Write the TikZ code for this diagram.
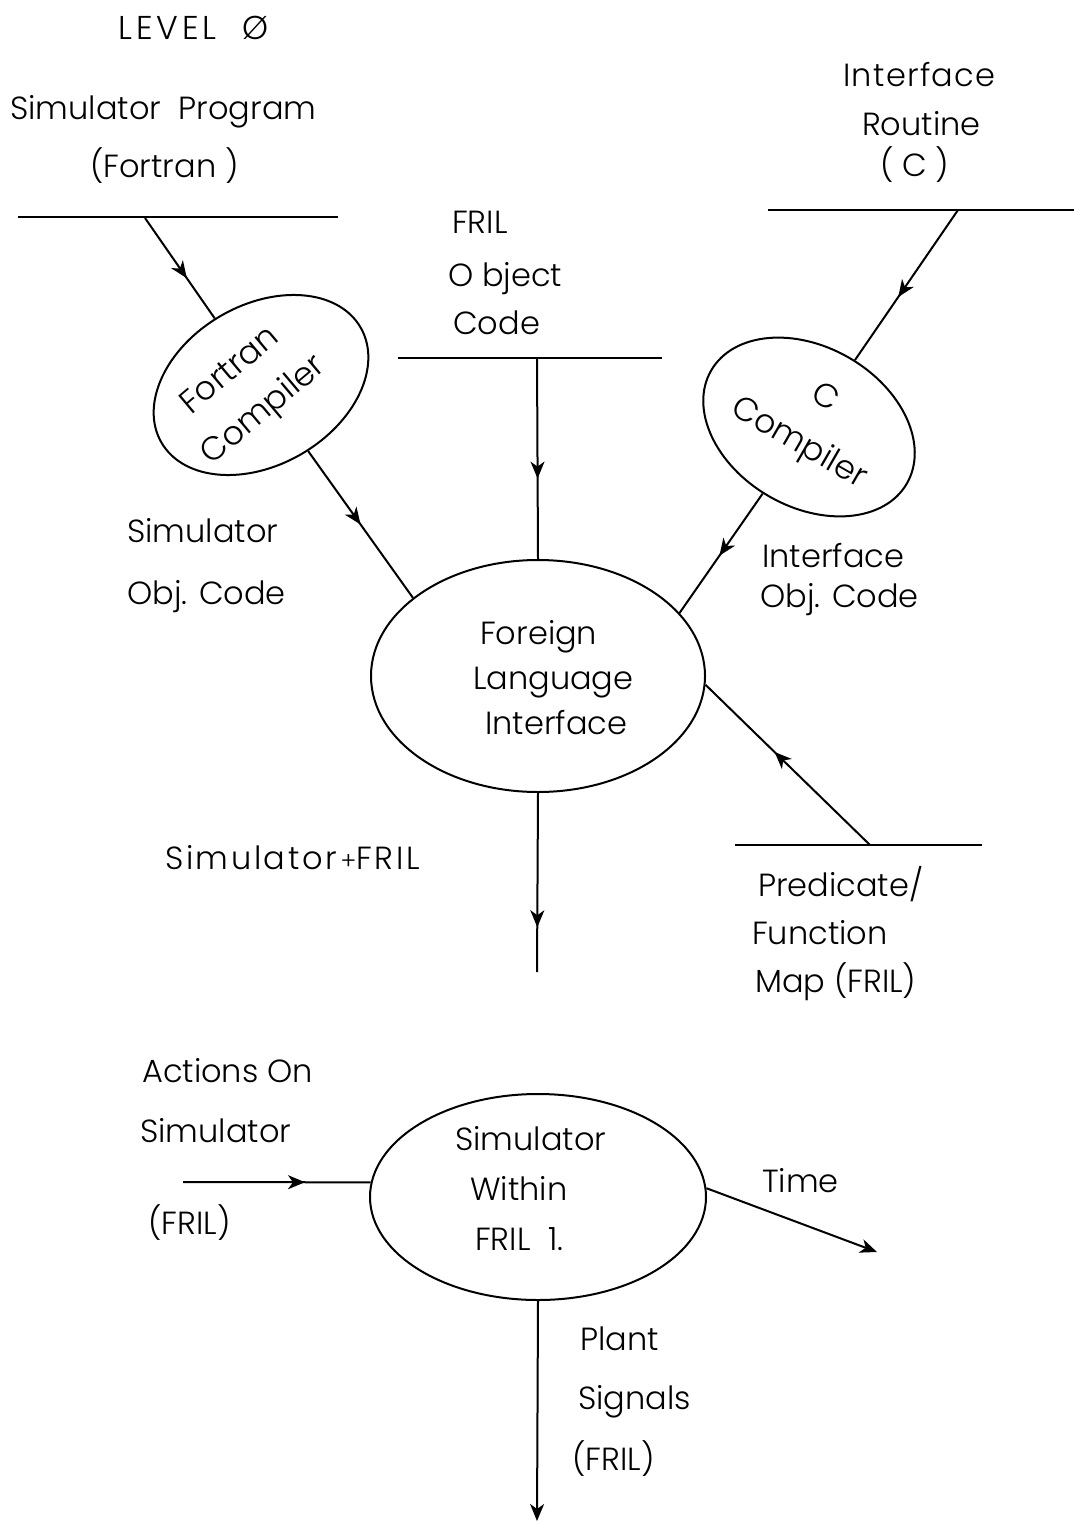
\documentclass[tikz,border=0pt]{standalone}
\usepackage{fontspec}
\setmainfont{Poppins Light}
\usetikzlibrary{shapes.geometric,arrows.meta,decorations.markings}
\tikzset{
  lbl/.style={anchor=base west, inner sep=0pt, font=\fontsize{32}{38}\selectfont},
  bubble/.style={draw, ellipse, line width=2pt, inner sep=0pt},
  store/.style={line width=2.8pt},
  flow/.style={line width=2pt},
  midtip/.style={postaction={decorate},
    decoration={markings, mark=at position #1 with {\arrow{Stealth[length=17pt,width=14pt,inset=5pt]}}}},
  endtip/.style={-{Stealth[length=17pt,width=14pt,inset=5pt]}},
}
\begin{document}
\begin{tikzpicture}[x=1pt,y=-1pt]
\useasboundingbox[fill=white] (0,0) rectangle (1074,1522);

% title
\node[lbl, font=\fontsize{33}{38}\selectfont\addfontfeatures{LetterSpace=12}] (title) at (118,40) {LEVEL\ \ Ø};

% data stores (bars)
\draw[store] (18,217) -- (338,217);
\draw[store] (398,358) -- (662,358);
\draw[store] (768,210) -- (1074,210);
\draw[store] (735,845) -- (982,845);

\coordinate (ftop) at (145,218);
\coordinate (otop) at (537,358);
\coordinate (ctop) at (958,210);
\coordinate (ptop) at (870,845);
\coordinate (flout) at (537,972);
\coordinate (actin) at (183,1182);
\coordinate (timeout) at (877,1252);
\coordinate (plantout) at (537,1521);

% processes
\node[bubble, minimum width=230pt, minimum height=160pt, rotate=30] (fc) at (261,385) {};
\node[bubble, minimum width=226pt, minimum height=160pt, rotate=-30] (cc) at (809,427) {};
\node[bubble, minimum width=334pt, minimum height=232pt] (fli) at (538,676) {};
\node[bubble, minimum width=336pt, minimum height=206pt] (sim) at (538,1197) {};

% text inside the processes
\node[font=\fontsize{33}{52}\selectfont, align=center, rotate=40, inner sep=0pt] (fctext) at (248,392) {Fortran\\Compiler};
\node[font=\fontsize{33}{52}\selectfont, align=center, rotate=-30, inner sep=0pt] (cctext) at (811,422) {C\\Compiler};
\node[lbl] (fli1) at (480,644) {Foreign};
\node[lbl] (fli2) at (473,689) {Language};
\node[lbl] (fli3) at (485,734) {Interface};
\node[lbl] (sim1) at (455,1150) {Simulator};
\node[lbl] (sim2) at (470,1200) {Within};
\node[lbl] (sim3) at (475,1250) {FRIL\ \ 1.};

% store labels
\node[lbl] (sp1) at (10,120) {Simulator\ \ Program};
\node[lbl] (sp2) at (90,178) {(Fortran )};
\node[lbl] (ob1) at (452,234) {FRIL};
\node[lbl] (ob2) at (448,287) {O bject};
\node[lbl] (ob3) at (453,334) {Code};
\node[lbl, font=\fontsize{32}{38}\selectfont\addfontfeatures{LetterSpace=4}] (ir1) at (843,87) {Interface};
\node[lbl] (ir2) at (862,136) {Routine};
\node[lbl] (ir3) at (880,177) {( C )};
\node[lbl] (pm1) at (758,896) {Predicate/};
\node[lbl] (pm2) at (752,944) {Function};
\node[lbl] (pm3) at (755,992) {Map (FRIL)};

% flow labels
\node[lbl] (so1) at (127,542) {Simulator};
\node[lbl] (so2) at (127,604) {Obj. Code};
\node[lbl] (io1) at (762,567) {Interface};
\node[lbl] (io2) at (760,607) {Obj. Code};
\node[lbl, font=\fontsize{32}{38}\selectfont\addfontfeatures{LetterSpace=8}] (sf) at (165,869) {Simulator\hspace{4pt}{\fontsize{24}{28}\selectfont+}FRIL};
\node[lbl] (ac1) at (142,1082) {Actions On};
\node[lbl] (ac2) at (140,1142) {Simulator};
\node[lbl] (ac3) at (148,1234) {(FRIL)};
\node[lbl] (tm) at (762,1192) {Time};
\node[lbl] (ps1) at (580,1350) {Plant};
\node[lbl] (ps2) at (578,1409) {Signals};
\node[lbl] (ps3) at (572,1470) {(FRIL)};

% flows
\draw[flow, midtip=0.6] (ftop) -- (fc);
\draw[flow, midtip=0.5] (fc) -- (fli.148);
\draw[flow, midtip=0.6] (otop) -- (fli.north);
\draw[flow, midtip=0.58] (ctop) -- (cc);
\draw[flow, midtip=0.52] (cc) -- (fli.24);
\draw[flow, midtip=0.58] (ptop) -- (fli.-3);
\draw[flow, midtip=0.75] (fli.south) -- (flout);
\draw[flow, midtip=0.65] (actin) -- (sim.175);
\draw[flow, endtip] (sim.3) -- (timeout);
\draw[flow, endtip] (sim.south) -- (plantout);
\end{tikzpicture}
\end{document}
